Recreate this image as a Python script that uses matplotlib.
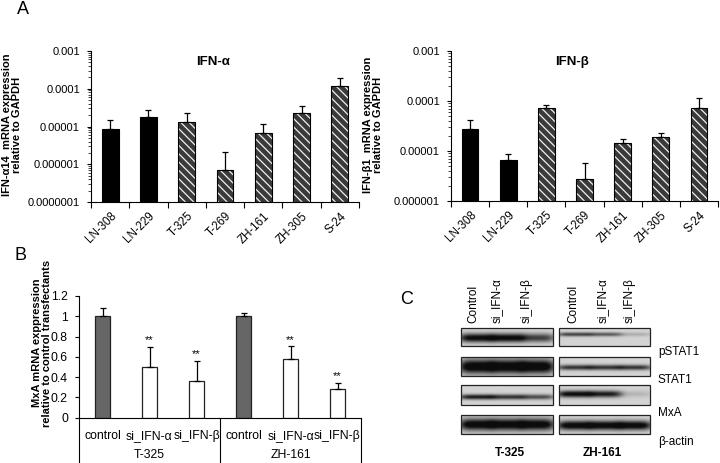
import numpy as np
import matplotlib.pyplot as plt
from matplotlib.patches import Rectangle

plt.rcParams['font.family'] = ['Liberation Sans', 'DejaVu Sans']
plt.rcParams['hatch.linewidth'] = 0.9

# ---- data, panel A ----
cell_lines = ['LN-308', 'LN-229', 'T-325', 'T-269', 'ZH-161', 'ZH-305', 'S-24']
solid = [True, True, False, False, False, False, False]
ifn_a = [8.5e-6, 1.76e-5, 1.3e-5, 7.1e-7, 6.7e-6, 2.25e-5, 1.15e-4]
ifn_a_err = [6.2e-6, 9.4e-6, 9.9e-6, 1.36e-6, 4.6e-6, 1.25e-5, 8.0e-5]
ifn_b = [2.8e-5, 6.5e-6, 7.2e-5, 2.76e-6, 1.45e-5, 1.93e-5, 7.2e-5]
ifn_b_err = [1.4e-5, 2.2e-6, 1.1e-5, 3.0e-6, 2.9e-6, 3.5e-6, 4.1e-5]

# ---- data, panel B ----
groups = ['T-325', 'ZH-161']
conditions = ['control', 'si_IFN-α', 'si_IFN-β']
mxa = [1.0, 0.50, 0.36, 1.0, 0.575, 0.28]
mxa_err = [0.08, 0.20, 0.20, 0.03, 0.13, 0.065]
signif = ['', '**', '**', '', '**', '**']

# ---- data, panel C (band intensity 0..1, lanes: control, si_IFN-a, si_IFN-b) ----
blot_rows = ['pSTAT1', 'STAT1', 'MxA', 'β-actin']
lanes = ['Control', 'si_IFN-α', 'si_IFN-β']
blot_t325 = [[0.85, 0.85, 0.6], [0.95, 0.95, 0.95], [0.75, 0.65, 0.55], [0.9, 0.9, 0.9]]
blot_zh161 = [[0.6, 0.5, 0.15], [0.65, 0.65, 0.65], [0.85, 0.75, 0.12], [0.9, 0.9, 0.9]]

W, H = 720, 463
fig = plt.figure(figsize=(7.2, 4.63), dpi=100)


def box(x0, y0, x1, y1):
    # pixel box (top-left origin) -> figure fraction rect
    return [x0 / W, 1 - y1 / H, (x1 - x0) / W, (y1 - y0) / H]


# overlay axes in pixel coords for free text and the blot
axc = fig.add_axes([0, 0, 1, 1])
axc.set_xlim(0, W)
axc.set_ylim(H, 0)
axc.axis('off')


def log_panel(rect, vals, errs, ymin, ticklabels, title):
    ax = fig.add_axes(rect)
    x = np.arange(len(cell_lines))
    ax.set_yscale('log')
    for i in x:
        h = vals[i] - ymin
        if solid[i]:
            ax.bar(i, h, bottom=ymin, width=0.44, color='black', edgecolor='black', lw=0.8)
        else:
            ax.bar(i, h, bottom=ymin, width=0.44, color='#3a3a3a', edgecolor='#f0f0f0',
                   hatch='\\\\\\\\', lw=0)
            ax.bar(i, h, bottom=ymin, width=0.44, fill=False, edgecolor='black', lw=0.8)
    ax.errorbar(x, vals, yerr=[np.zeros(len(vals)), errs], fmt='none', ecolor='black',
                elinewidth=0.9, capsize=2.5, capthick=0.9)
    ax.set_ylim(ymin, 1e-3)
    ax.set_xlim(-0.5, len(cell_lines) - 0.5)
    ticks = [ymin * 10 ** k for k in range(len(ticklabels))]
    ax.set_yticks(ticks)
    ax.set_yticklabels(ticklabels[::-1])
    ax.tick_params(axis='y', which='major', length=3, width=0.8, labelsize=8, pad=5)
    ax.tick_params(axis='y', which='minor', length=2, width=0.5)
    ax.set_xticks(np.arange(len(cell_lines) + 1) - 0.5)
    ax.set_xticklabels([])
    ax.set_xticks(x, minor=True)
    ax.set_xticklabels(cell_lines, minor=True, rotation=45, ha='right', va='top',
                       rotation_mode='anchor', fontsize=8.3)
    ax.tick_params(axis='x', which='major', length=4, width=0.8)
    ax.tick_params(axis='x', which='minor', length=0, pad=6)
    for s in ['top', 'right']:
        ax.spines[s].set_visible(False)
    for s in ['left', 'bottom']:
        ax.spines[s].set_linewidth(0.8)
    ax.text(0.455, 0.93, title, transform=ax.transAxes, ha='center', va='center',
            fontsize=9.5, fontweight='bold')
    return ax


log_panel(box(91, 51, 359, 202), ifn_a, ifn_a_err, 1e-7,
          ['0.001', '0.0001', '0.00001', '0.000001', '0.0000001'], 'IFN-α')
log_panel(box(451, 51, 718, 201), ifn_b, ifn_b_err, 1e-6,
          ['0.001', '0.0001', '0.00001', '0.000001'], 'IFN-β')

axc.text(12, 125, 'IFN-α14  mRNA expression\nrelative to GAPDH', rotation=90,
         ha='center', va='center', fontsize=8, fontweight='bold', linespacing=1.05)
axc.text(373, 125, 'IFN-β1  mRNA expression\nrelative to GAPDH', rotation=90,
         ha='center', va='center', fontsize=8, fontweight='bold', linespacing=1.05)

# ---- panel B ----
axb = fig.add_axes(box(79, 296, 361, 417.7))
xb = np.arange(len(mxa))
colors = ['#666666' if i % 3 == 0 else 'white' for i in xb]
axb.bar(xb, mxa, width=0.31, color=colors, edgecolor='#222222', lw=0.9)
axb.errorbar(xb, mxa, yerr=[np.zeros(len(mxa)), mxa_err], fmt='none', ecolor='black',
             elinewidth=0.9, capsize=2.5, capthick=0.9)
for i in xb:
    if signif[i]:
        axb.annotate(signif[i], (i, mxa[i] + mxa_err[i]), xytext=(0, 1),
                     textcoords='offset points', ha='center', va='bottom', fontsize=8)
axb.set_ylim(0, 1.2)
axb.set_xlim(-0.5, len(mxa) - 0.5)
yt = np.arange(0, 1.21, 0.2)
axb.set_yticks(yt)
axb.set_yticklabels([f'{v:g}' for v in yt])
axb.tick_params(axis='y', length=3, width=0.8, labelsize=8.8, pad=5)
axb.set_xticks([])
for s in ['top', 'right']:
    axb.spines[s].set_visible(False)
axb.spines['left'].set_linewidth(0.8)
axb.spines['bottom'].set_linewidth(0.8)
for xv in [-0.5, 2.5, 5.5]:
    axb.plot([xv, xv], [0, -0.38], color='black', lw=0.8, clip_on=False,
             transform=axb.get_xaxis_transform())
for i in xb:
    axb.text(i, -0.148, conditions[i % 3], transform=axb.get_xaxis_transform(),
             ha='center', va='center', fontsize=8.8)
for g, name in enumerate(groups):
    axb.text(g * 3 + 1, -0.31, name, transform=axb.get_xaxis_transform(),
             ha='center', va='center', fontsize=8.8)
axc.text(42, 343, 'MxA mRNA exppression\nrelative to control transfectants', rotation=90,
         ha='center', va='center', fontsize=8, fontweight='bold', linespacing=1.05)

# ---- panel C: western blot ----
shape_t325 = [(0.55, 0.25), (0.5, 0.38), (0.6, 0.13), (0.5, 0.32)]
shape_zh161 = [(0.35, 0.11), (0.55, 0.14), (0.45, 0.17), (0.55, 0.25)]
row_y = [(328, 346), (357, 376), (385, 405), (415, 434)]
strips = [((461, 553), blot_t325, shape_t325), ((559, 650), blot_zh161, shape_zh161)]

yy = np.linspace(0, 1, 40)[:, None]
xx = np.linspace(0, 1, 120)[None, :]
for (x0, x1), inten, shapes in strips:
    for r, (y0, y1) in enumerate(row_y):
        yc, th = shapes[r]
        img = np.full((40, 120), 0.17)
        for k, val in enumerate(inten[r]):
            c = (k + 0.5) / 3
            img += val * np.exp(-((yy - yc) / th) ** 2) * np.exp(-((xx - c) / 0.19) ** 4)
        axc.imshow(np.clip(img, 0, 0.95), cmap='gray_r', vmin=0, vmax=1,
                   extent=(x0, x1, y1, y0), aspect='auto', interpolation='bicubic')
        axc.add_patch(Rectangle((x0, y0), x1 - x0, y1 - y0, fill=False,
                                edgecolor='#222222', lw=0.9))
axc.set_xlim(0, W)
axc.set_ylim(H, 0)

for xs, xl in [([473, 497, 527], lanes), ([573, 603, 630], lanes)]:
    for xv, lab in zip(xs, xl):
        axc.text(xv, 323, lab, rotation=90, ha='center', va='bottom', fontsize=8.5)
for lab, yv in zip(blot_rows, [352, 380, 413, 442]):
    axc.text(658, yv, lab, ha='left', va='center', fontsize=8.5)
axc.text(510, 453, 'T-325', ha='center', va='center', fontsize=8.5, fontweight='bold')
axc.text(602, 453, 'ZH-161', ha='center', va='center', fontsize=8.5, fontweight='bold')

# panel letters
axc.text(17, 10, 'A', ha='left', va='center', fontsize=13)
axc.text(14, 255, 'B', ha='left', va='center', fontsize=13)
axc.text(400, 300, 'C', ha='left', va='center', fontsize=13)

fig.savefig('out.png', dpi=100)
